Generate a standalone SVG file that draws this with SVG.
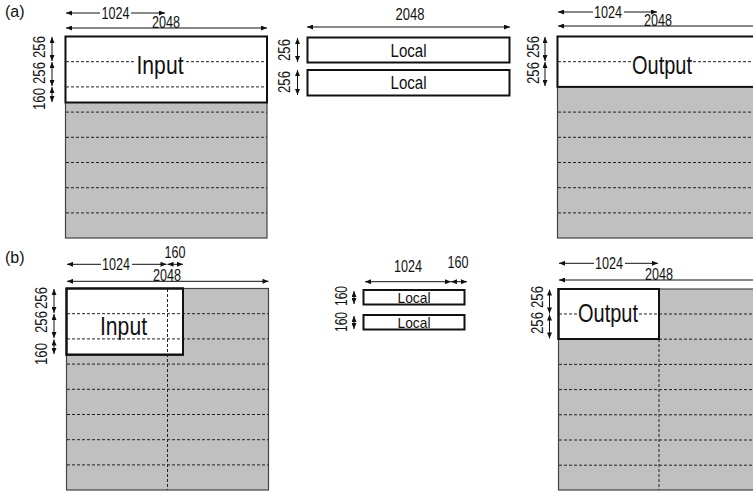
<svg xmlns="http://www.w3.org/2000/svg" width="753" height="491" viewBox="0 0 753 491">
<defs>
<marker id="ah" viewBox="0 0 6 5" refX="6" refY="2.5" markerWidth="7" markerHeight="5" markerUnits="userSpaceOnUse" orient="auto-start-reverse"><path d="M0,0 L6,2.5 L0,5 z" fill="#111"/></marker>
<style>
text{font-family:"Liberation Sans",Arial,sans-serif;fill:#111}
.dim{font-size:16.5px;text-anchor:middle}
.big{font-size:26px;text-anchor:middle}
.loc{text-anchor:middle}
.panel{fill:#c0c0c0;stroke:#444;stroke-width:1.2}
.box{fill:#fff;stroke:#111;stroke-width:2}
.boxo{fill:none;stroke:#111;stroke-width:2}
.dash{stroke:#222;stroke-width:1;stroke-dasharray:3,2;fill:none}
.arr{stroke:#111;stroke-width:1;fill:none;marker-start:url(#ah);marker-end:url(#ah)}
.wb{fill:#fff}
</style>
</defs>

<text x="5" y="17" style="font-size:16px">(a)</text>
<text x="5" y="263" style="font-size:16px">(b)</text>

<g id="a-input">
<rect class="panel" x="65.5" y="36.5" width="201.5" height="201.5"/>
<rect class="box" x="65.5" y="36.5" width="201.5" height="66"/>
<path class="dash" d="M66,61.7H267M66,86.9H267M66,112.1H267M66,137.3H267M66,162.5H267M66,187.7H267M66,212.9H267"/>
<rect class="wb" x="136" y="54" width="48" height="21"/>
<text class="big" x="160" y="74" textLength="47" lengthAdjust="spacingAndGlyphs">Input</text>
</g>

<g id="a-local">
<rect class="box" x="307.5" y="37.5" width="202" height="25"/>
<rect class="box" x="307.5" y="70" width="202" height="25.5"/>
<text class="loc" x="408.5" y="56.5" style="font-size:18px" textLength="36" lengthAdjust="spacingAndGlyphs">Local</text>
<text class="loc" x="408.5" y="88.5" style="font-size:18px" textLength="36" lengthAdjust="spacingAndGlyphs">Local</text>
</g>

<g id="a-output">
<rect class="panel" x="557.5" y="36.5" width="202" height="201.5"/>
<rect class="box" x="557.5" y="36.5" width="202" height="50.4"/>
<path class="dash" d="M558,61.7H760M558,112.1H760M558,137.3H760M558,162.5H760M558,187.7H760M558,212.9H760"/>
<rect class="wb" x="631" y="54" width="62" height="21"/>
<text class="big" x="662" y="74" textLength="60" lengthAdjust="spacingAndGlyphs">Output</text>
</g>

<g id="b-input">
<rect class="panel" x="66.5" y="288.5" width="202" height="201.5"/>
<rect class="box" x="66.5" y="288.5" width="116.5" height="66.2"/>
<path class="dash" d="M67,313.7H268.5M67,338.9H268.5M67,364.1H268.5M67,389.3H268.5M67,414.5H268.5M67,439.7H268.5M67,464.9H268.5M167.5,289V490"/>
<rect class="boxo" x="66.5" y="288.5" width="116.5" height="66.2"/>
<text class="big" x="123.5" y="334.5" textLength="47" lengthAdjust="spacingAndGlyphs">Input</text>
</g>

<g id="b-local">
<rect class="box" x="363.5" y="290" width="101" height="14.5"/>
<rect class="box" x="363.5" y="315" width="101" height="14.5"/>
<text class="loc" x="414" y="302.5" style="font-size:14.5px" textLength="33" lengthAdjust="spacingAndGlyphs">Local</text>
<text class="loc" x="414" y="327.5" style="font-size:14.5px" textLength="33" lengthAdjust="spacingAndGlyphs">Local</text>
</g>

<g id="b-output">
<rect class="panel" x="558.5" y="289" width="202" height="201"/>
<rect class="box" x="558.5" y="289" width="100.5" height="50"/>
<path class="dash" d="M559,314H760M559,339.2H760M559,364.4H760M559,389.6H760M559,414.8H760M559,440H760M559,465.2H760M659,339V490"/>
<rect class="boxo" x="558.5" y="289" width="100.5" height="50"/>
<rect class="wb" x="577" y="303" width="62" height="20"/>
<text class="big" x="608" y="322" textLength="60" lengthAdjust="spacingAndGlyphs">Output</text>
</g>

<g id="connectors">
<line class="arr" x1="66" y1="13" x2="165" y2="13"/>
<rect class="wb" x="100" y="5" width="31" height="15"/>
<text class="dim" x="115.5" y="19" textLength="28" lengthAdjust="spacingAndGlyphs">1024</text>
<line class="arr" x1="66" y1="28" x2="267" y2="28"/>
<text class="dim" x="166" y="28" textLength="28" lengthAdjust="spacingAndGlyphs">2048</text>
<line class="arr" x1="52" y1="37" x2="52" y2="61"/>
<line class="arr" x1="52" y1="62" x2="52" y2="86"/>
<line class="arr" x1="52" y1="87" x2="52" y2="102"/>
<text class="dim" transform="translate(45,47) rotate(-90)" textLength="22" lengthAdjust="spacingAndGlyphs">256</text>
<text class="dim" transform="translate(45,73) rotate(-90)" textLength="22" lengthAdjust="spacingAndGlyphs">256</text>
<text class="dim" transform="translate(45,99) rotate(-90)" textLength="22" lengthAdjust="spacingAndGlyphs">160</text>
<text class="dim" x="410" y="20" textLength="29" lengthAdjust="spacingAndGlyphs">2048</text>
<line class="arr" x1="307" y1="27" x2="510" y2="27"/>
<line class="arr" x1="297.5" y1="38" x2="297.5" y2="62"/>
<line class="arr" x1="297.5" y1="70" x2="297.5" y2="95"/>
<text class="dim" transform="translate(290,50) rotate(-90)" textLength="22" lengthAdjust="spacingAndGlyphs">256</text>
<text class="dim" transform="translate(290,82) rotate(-90)" textLength="22" lengthAdjust="spacingAndGlyphs">256</text>
<line class="arr" x1="558" y1="12" x2="657" y2="12"/>
<rect class="wb" x="593" y="4" width="31" height="15"/>
<text class="dim" x="608" y="18" textLength="28" lengthAdjust="spacingAndGlyphs">1024</text>
<line class="arr" x1="558" y1="26" x2="760" y2="26"/>
<text class="dim" x="658" y="26" textLength="28" lengthAdjust="spacingAndGlyphs">2048</text>
<line class="arr" x1="545" y1="37" x2="545" y2="61"/>
<line class="arr" x1="545" y1="62" x2="545" y2="86"/>
<text class="dim" transform="translate(539,47) rotate(-90)" textLength="22" lengthAdjust="spacingAndGlyphs">256</text>
<text class="dim" transform="translate(539,73) rotate(-90)" textLength="22" lengthAdjust="spacingAndGlyphs">256</text>
<line class="arr" x1="67" y1="264.3" x2="166.5" y2="264.3"/>
<rect class="wb" x="101" y="256" width="31" height="15"/>
<text class="dim" x="116" y="270" textLength="28" lengthAdjust="spacingAndGlyphs">1024</text>
<line class="arr" x1="167.5" y1="264.3" x2="183" y2="264.3"/>
<text class="dim" x="175" y="258" textLength="21" lengthAdjust="spacingAndGlyphs">160</text>
<line class="arr" x1="67" y1="281.3" x2="268.5" y2="281.3"/>
<text class="dim" x="167" y="281.3" textLength="28" lengthAdjust="spacingAndGlyphs">2048</text>
<line class="arr" x1="54" y1="289" x2="54" y2="313"/>
<line class="arr" x1="54" y1="314" x2="54" y2="338"/>
<line class="arr" x1="54" y1="339.5" x2="54" y2="354"/>
<text class="dim" transform="translate(47,298) rotate(-90)" textLength="22" lengthAdjust="spacingAndGlyphs">256</text>
<text class="dim" transform="translate(47,322) rotate(-90)" textLength="22" lengthAdjust="spacingAndGlyphs">256</text>
<text class="dim" transform="translate(47,354) rotate(-90)" textLength="22" lengthAdjust="spacingAndGlyphs">160</text>
<text class="dim" x="408" y="272" textLength="28" lengthAdjust="spacingAndGlyphs">1024</text>
<text class="dim" x="458" y="268" textLength="21" lengthAdjust="spacingAndGlyphs">160</text>
<line class="arr" x1="365" y1="281.7" x2="451" y2="281.7"/>
<line class="arr" x1="451" y1="281.7" x2="467" y2="281.7"/>
<line class="arr" x1="354" y1="291" x2="354" y2="304"/>
<line class="arr" x1="354" y1="316" x2="354" y2="329"/>
<text class="dim" transform="translate(347,296) rotate(-90)" textLength="20" lengthAdjust="spacingAndGlyphs">160</text>
<text class="dim" transform="translate(347,322) rotate(-90)" textLength="20" lengthAdjust="spacingAndGlyphs">160</text>
<line class="arr" x1="559" y1="263.3" x2="658" y2="263.3"/>
<rect class="wb" x="594" y="255" width="31" height="15"/>
<text class="dim" x="609" y="269" textLength="28" lengthAdjust="spacingAndGlyphs">1024</text>
<line class="arr" x1="559" y1="280" x2="760" y2="280"/>
<text class="dim" x="659" y="280" textLength="28" lengthAdjust="spacingAndGlyphs">2048</text>
<line class="arr" x1="549.5" y1="289.5" x2="549.5" y2="313.5"/>
<line class="arr" x1="549.5" y1="314.5" x2="549.5" y2="338.5"/>
<text class="dim" transform="translate(543,297) rotate(-90)" textLength="22" lengthAdjust="spacingAndGlyphs">256</text>
<text class="dim" transform="translate(543,323) rotate(-90)" textLength="22" lengthAdjust="spacingAndGlyphs">256</text>
</g>
</svg>
